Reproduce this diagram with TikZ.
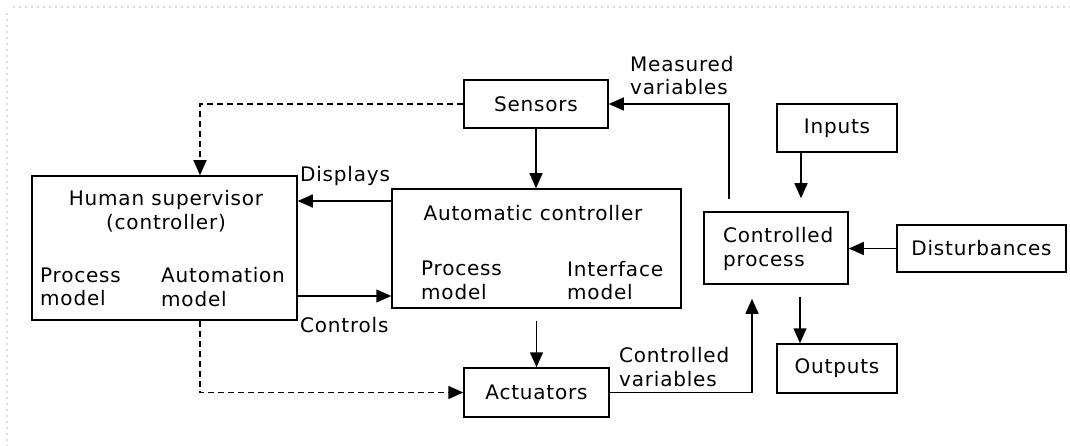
\documentclass[tikz,border=0pt]{standalone}
\usepackage{fontspec}
\setmainfont[LetterSpace=4]{DejaVu Sans}
\usetikzlibrary{arrows.meta}
\definecolor{frame}{gray}{0.86}
\begin{document}
\begin{tikzpicture}[x=1pt,y=-1pt,
  box/.style={draw, line width=1.5pt, inner sep=0pt, rectangle},
  lbl/.style={inner sep=0pt, align=left, font=\fontsize{20}{23.5}\selectfont},
  arr/.style={line width=1.5pt, -{Triangle[length=15pt,width=13pt]}},
  dsh/.style={arr, dash pattern=on 6pt off 4pt}]
\useasboundingbox (0,0) rectangle (1070,446);
% light dotted frame
\draw[frame, line width=1.6pt, dash pattern=on 2pt off 4pt] (13,7) -- (1070,7);
\draw[frame, line width=1.6pt, dash pattern=on 2pt off 4pt] (7,13) -- (7,446);
% boxes
\node[box, minimum width=265pt, minimum height=144pt] (hum) at (164.5,248) {};
\node[box, minimum width=144pt, minimum height=48pt, lbl] (sen) at (536,104) {Sensors};
\node[box, minimum width=289pt, minimum height=119pt] (aut) at (536.5,248.5) {};
\node[box, minimum width=145pt, minimum height=49pt, lbl] (act) at (536.5,392.5) {Actuators};
\node[box, minimum width=144pt, minimum height=72pt] (cp) at (776,248) {};
\node[box, minimum width=120pt, minimum height=48pt, lbl] (inp) at (837,128) {Inputs};
\node[box, minimum width=169pt, minimum height=47pt, lbl] (dis) at (981.5,248.5) {Disturbances};
\node[box, minimum width=120pt, minimum height=49pt, lbl] (out) at (837,368.5) {Outputs};
% texts inside boxes
\node[lbl, align=center] (humt) at (166,211) {Human supervisor\\(controller)};
\node[lbl, anchor=west] (humpm) at (40,287) {Process\\model};
\node[lbl, anchor=west] (humam) at (161,287) {Automation\\model};
\node[lbl] (autt) at (533,213) {Automatic controller};
\node[lbl, anchor=west] (autpm) at (421,280.5) {Process\\model};
\node[lbl, anchor=west] (autim) at (567,280.5) {Interface\\model};
\node[lbl, anchor=west] (cpt) at (723,249) {Controlled\\process};
% connector labels
\node[lbl, anchor=west] (ldisp) at (300,176) {Displays};
\node[lbl, anchor=west] (lctrl) at (300,325) {Controls};
\node[lbl, anchor=west] (lmeas) at (630,75.5) {Measured\\variables};
\node[lbl, anchor=west] (lcv) at (619,367) {Controlled\\variables};
% connectors
\draw[dsh] (sen.west) -| ([xshift=35.5pt]hum.north);
\draw[arr] ([yshift=47.5pt]aut.west) coordinate (dA) -- (dA -| hum.east);
\draw[arr] ([yshift=-48pt]hum.east) coordinate (cA) -- (cA -| aut.west);
\draw[dsh] ([xshift=35.5pt]hum.south) |- (act.west);
\draw[arr] (sen.south) -- (sen.south |- aut.north);
\draw[arr, shorten <=12pt] (aut.south) -- (act.north);
\draw[arr, shorten >=14pt] (act.east) -| ([xshift=-24pt]cp.south);
\draw[arr, shorten <=12pt] ([xshift=-47pt]cp.north) |- (sen.east);
\draw[arr, shorten >=13pt] ([xshift=-36pt]inp.south) coordinate (iA) -- (iA |- cp.north);
\draw[arr] (dis.west) -- (dis.west -| cp.east);
\draw[arr, shorten <=12pt] ([xshift=24pt]cp.south) coordinate (oA) -- (oA |- out.north);
\end{tikzpicture}
\end{document}
